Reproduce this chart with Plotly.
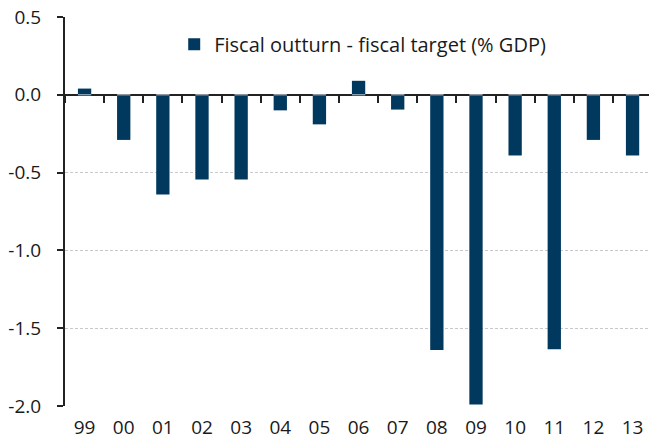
import plotly.graph_objects as go

categories = ["99", "00", "01", "02", "03", "04", "05", "06", "07", "08", "09", "10", "11", "12", "13"]
values = [0.04, -0.29, -0.64, -0.545, -0.545, -0.10, -0.19, 0.09, -0.095, -1.64, -1.99, -0.39, -1.635, -0.29, -0.39]
series_name = "Fiscal outturn - fiscal target (% GDP)"
y_ticks = [0.5, 0.0, -0.5, -1.0, -1.5, -2.0]
y_ticktext = ["0.5", "0.0", "-0.5", "-1.0", "-1.5", "-2.0"]

bar_color = "#00395d"
text_color = "#1a1a1a"
font_family = "Open Sans, Segoe UI, sans-serif"

fig = go.Figure()
fig.add_trace(go.Bar(
    x=categories, y=values, name=series_name,
    marker=dict(color=bar_color, line=dict(width=0)),
    width=0.34,
))
# invisible trace to carry the category tick marks on the zero line
fig.add_trace(go.Bar(
    x=categories, y=[0] * len(categories), xaxis="x2",
    showlegend=False, hoverinfo="skip", marker=dict(color="rgba(0,0,0,0)"),
))

fig.update_layout(
    width=649, height=447,
    margin=dict(l=65, r=0, t=17, b=41, autoexpand=False),
    paper_bgcolor="white", plot_bgcolor="white",
    font=dict(family=font_family, size=19, color=text_color),
    showlegend=True,
    legend=dict(x=0.187, y=0.93, xanchor="left", yanchor="middle",
                font=dict(size=20, color=text_color), bgcolor="rgba(0,0,0,0)"),
    xaxis=dict(type="category", categoryorder="array", categoryarray=categories,
               range=[-0.5, 14.42], showgrid=False, showline=False, zeroline=False,
               automargin=False,
               ticks="", ticklabelstandoff=8, tickfont=dict(size=19)),
    xaxis2=dict(type="category", categoryorder="array", categoryarray=categories,
                overlaying="x", matches="x", anchor="free", position=0.8,
                automargin=False,
                showgrid=False, showline=False, zeroline=False, showticklabels=False,
                ticks="outside", tickson="boundaries", ticklen=7, tickwidth=2,
                tickcolor="#222222"),
    yaxis=dict(range=[-2.0, 0.5], tickvals=y_ticks, ticktext=y_ticktext,
               automargin=False,
               showgrid=True, gridcolor="#c8c8c8", gridwidth=1, griddash="3px,2px",
               zeroline=True, zerolinecolor="#222222", zerolinewidth=2,
               showline=True, linecolor="#222222", linewidth=2,
               ticks="outside", ticklen=6, tickwidth=2, tickcolor="#222222",
               ticklabelstandoff=12, tickfont=dict(size=19)),
    bargap=0.66,
)

fig.write_html("out.html", config={"displayModeBar": False},
               post_script="document.body.style.margin='0';document.body.style.padding='0';")
